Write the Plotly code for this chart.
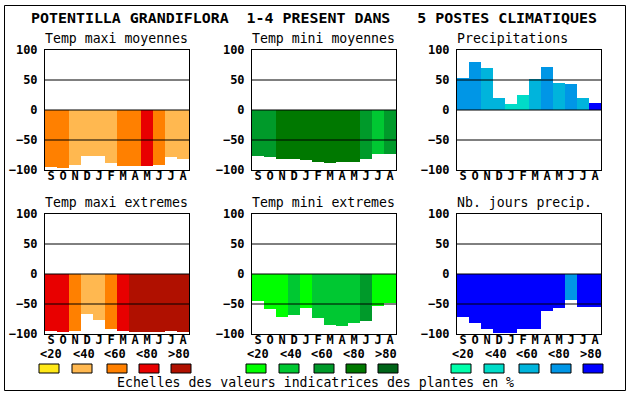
import plotly.graph_objects as go

W, H = 630, 394

months = ["S", "O", "N", "D", "J", "F", "M", "A", "M", "J", "J", "A"]
class_labels = ["<20", "<40", "<60", "<80", ">80"]

main_title = "POTENTILLA GRANDIFLORA  1-4 PRESENT DANS   5 POSTES CLIMATIQUES"
footer = "Echelles des valeurs indicatrices des plantes en %"

panel_titles = ["Temp maxi moyennes", "Temp mini moyennes", "Precipitations",
                "Temp maxi extremes", "Temp mini extremes", "Nb. jours precip."]

reds = ["#FFE818", "#FFB850", "#FF8000", "#E80000", "#B01000"]
greens = ["#00FF00", "#00C832", "#009A2A", "#007800", "#006418"]
blues = ["#00FFAA", "#00DCC8", "#00B4DC", "#0096E6", "#0000FF"]

tmax_moy = [-95, -96, -91, -76, -76, -88, -93, -94, -94, -91, -78, -82]
tmax_moy_cls = [2, 2, 1, 1, 1, 1, 2, 2, 3, 2, 1, 1]

tmin_moy = [-76, -78, -81, -81, -83, -86, -88, -86, -86, -81, -73, -74]
tmin_moy_cls = [2, 2, 3, 3, 3, 3, 3, 3, 3, 2, 1, 2]

precip = [53, 80, 70, 20, 10, 25, 52, 72, 45, 43, 20, 12]
precip_cls = [3, 3, 2, 2, 1, 1, 2, 3, 2, 3, 2, 4]

tmax_ext = [-95, -97, -95, -67, -77, -92, -95, -97, -97, -97, -95, -97]
tmax_ext_cls = [3, 3, 2, 1, 1, 2, 3, 4, 4, 4, 4, 4]

tmin_ext = [-45, -58, -72, -68, -57, -73, -85, -87, -82, -78, -53, -49]
tmin_ext_cls = [0, 0, 0, 1, 0, 1, 1, 1, 1, 2, 0, 0]

jours = [-72, -82, -92, -98, -98, -92, -92, -62, -57, -43, -55, -55]
jours_cls = [4, 4, 4, 4, 4, 4, 4, 4, 4, 3, 4, 4]

panels = [
    (tmax_moy, tmax_moy_cls, reds),
    (tmin_moy, tmin_moy_cls, greens),
    (precip, precip_cls, blues),
    (tmax_ext, tmax_ext_cls, reds),
    (tmin_ext, tmin_ext_cls, greens),
    (jours, jours_cls, blues),
]

col_left = [45, 252, 457]
row_top = [50, 214]
pw, ph = 144, 120


def px(x):
    return x / W


def py(y):
    return 1 - y / H


FONT = "DejaVu Sans Mono"

fig = go.Figure()
shapes = []
annotations = []
layout = {}

for i, (vals, cls, pal) in enumerate(panels):
    r, c = divmod(i, 3)
    n = "" if i == 0 else str(i + 1)
    xa, ya = "x" + n, "y" + n
    fig.add_trace(go.Bar(
        x=list(range(12)), y=vals,
        marker=dict(color=[pal[k] for k in cls], line=dict(width=0)),
        width=1, xaxis=xa, yaxis=ya, showlegend=False, hoverinfo="skip",
    ))
    x0, x1 = px(col_left[c]), px(col_left[c] + pw)
    y0, y1 = py(row_top[r] + ph), py(row_top[r])
    layout["xaxis" + n] = dict(
        domain=[x0, x1], anchor=ya, range=[-0.5, 11.5],
        tickvals=list(range(12)), ticktext=months, ticks="",
        showgrid=False, zeroline=False, showline=True, mirror=True,
        linecolor="black", linewidth=1, fixedrange=True, automargin=False,
        tickfont=dict(family=FONT, size=12, color="black", weight="bold"),
        ticklabelstandoff=-5,
    )
    layout["yaxis" + n] = dict(
        domain=[y0, y1], anchor=xa, range=[-100, 100],
        tickvals=[-100, -50, 0, 50, 100], ticks="",
        showgrid=False, zeroline=False, showline=True, mirror=True,
        linecolor="black", linewidth=1, fixedrange=True, automargin=False,
        tickfont=dict(family=FONT, size=12, color="black", weight="bold"),
        ticklabelstandoff=4,
    )
    for yv in (50, 0, -50):
        shapes.append(dict(type="line", xref=xa + " domain", yref=ya,
                           x0=0, x1=1, y0=yv, y1=yv,
                           line=dict(color="black", width=1), layer="above"))
    annotations.append(dict(
        text=panel_titles[i], xref="paper", yref="paper",
        x=px(col_left[c] - 2), y=py(row_top[r] - 11.5), xanchor="left", yanchor="middle",
        showarrow=False, font=dict(family=FONT, size=13.2, color="black"),
    ))
    if r == 1:
        lbl_off = [-6, 27, 58, 90, 122]
        sw_off = [-6, 27, 62, 94, 126]
        for k in range(5):
            annotations.append(dict(
                text=class_labels[k], xref="paper", yref="paper",
                x=px(col_left[c] + lbl_off[k] - 1), y=py(354),
                xanchor="left", yanchor="middle", showarrow=False,
                font=dict(family=FONT, size=12, color="black", weight="bold"),
            ))
            shapes.append(dict(
                type="rect", xref="paper", yref="paper",
                x0=px(col_left[c] + sw_off[k]), x1=px(col_left[c] + sw_off[k] + 20),
                y0=py(373), y1=py(364),
                fillcolor=pal[k], line=dict(color="black", width=1),
            ))

annotations.append(dict(
    text="<b>" + main_title.replace(" ", "&nbsp;") + "</b>", xref="paper", yref="paper",
    x=px(29), y=py(18.3), xanchor="left", yanchor="middle", showarrow=False,
    font=dict(family=FONT, size=14.93, color="black"),
))
annotations.append(dict(
    text=footer, xref="paper", yref="paper",
    x=px(315), y=py(382), xanchor="center", yanchor="middle", showarrow=False,
    font=dict(family=FONT, size=13.2, color="black"),
))

shapes.append(dict(type="rect", xref="paper", yref="paper",
                   x0=px(4.5), x1=px(625.5), y0=py(390.5), y1=py(5.5),
                   line=dict(color="black", width=1), layer="above"))

fig.update_layout(
    width=W, height=H, margin=dict(l=0, r=0, t=0, b=0, autoexpand=False),
    paper_bgcolor="white", plot_bgcolor="white",
    bargap=0, shapes=shapes, annotations=annotations, **layout,
)

fig.write_html("out.html", config={"displayModeBar": False},
               post_script="document.documentElement.style.margin='0';document.body.style.margin='0';")
